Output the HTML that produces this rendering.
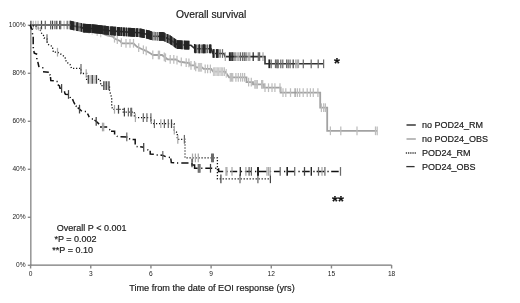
<!DOCTYPE html>
<html><head><meta charset="utf-8"><style>
html,body{margin:0;padding:0;background:#fff;overflow:hidden;}
svg{display:block;}
svg{will-change:transform;}
text{font-family:"Liberation Sans",sans-serif;fill:#1a1a1a;stroke:#1a1a1a;stroke-width:0.18px;}
.tk{font-size:6.6px;fill:#222;stroke:none;}
.lg{font-size:9px;fill:#222;}
</style></head><body>
<svg width="520" height="303" viewBox="0 0 520 303">
<rect width="520" height="303" fill="#fff"/>
<text x="176" y="17.7" style="font-size:10.3px">Overall survival</text>
<line x1="30.8" y1="25" x2="30.8" y2="265.6" stroke="#9a9a9a" stroke-width="1.6"/>
<line x1="30" y1="265.2" x2="391.6" y2="265.2" stroke="#777" stroke-width="1.3"/>
<line x1="30.60" y1="265" x2="30.60" y2="268.5" stroke="#888" stroke-width="1.4"/>
<text x="30.60" y="276" text-anchor="middle" class="tk">0</text>
<line x1="90.77" y1="265" x2="90.77" y2="268.5" stroke="#888" stroke-width="1.4"/>
<text x="90.77" y="276" text-anchor="middle" class="tk">3</text>
<line x1="150.94" y1="265" x2="150.94" y2="268.5" stroke="#888" stroke-width="1.4"/>
<text x="150.94" y="276" text-anchor="middle" class="tk">6</text>
<line x1="211.11" y1="265" x2="211.11" y2="268.5" stroke="#888" stroke-width="1.4"/>
<text x="211.11" y="276" text-anchor="middle" class="tk">9</text>
<line x1="271.28" y1="265" x2="271.28" y2="268.5" stroke="#888" stroke-width="1.4"/>
<text x="271.28" y="276" text-anchor="middle" class="tk">12</text>
<line x1="331.45" y1="265" x2="331.45" y2="268.5" stroke="#888" stroke-width="1.4"/>
<text x="331.45" y="276" text-anchor="middle" class="tk">15</text>
<line x1="391.62" y1="265" x2="391.62" y2="268.5" stroke="#888" stroke-width="1.4"/>
<text x="391.62" y="276" text-anchor="middle" class="tk">18</text>
<line x1="27.8" y1="25.3" x2="31" y2="25.3" stroke="#888" stroke-width="1.4"/>
<text x="25.6" y="27.0" text-anchor="end" class="tk">100%</text>
<line x1="27.8" y1="73.3" x2="31" y2="73.3" stroke="#888" stroke-width="1.4"/>
<text x="25.6" y="75.0" text-anchor="end" class="tk">80%</text>
<line x1="27.8" y1="121.3" x2="31" y2="121.3" stroke="#888" stroke-width="1.4"/>
<text x="25.6" y="123.0" text-anchor="end" class="tk">60%</text>
<line x1="27.8" y1="169.3" x2="31" y2="169.3" stroke="#888" stroke-width="1.4"/>
<text x="25.6" y="171.0" text-anchor="end" class="tk">40%</text>
<line x1="27.8" y1="217.3" x2="31" y2="217.3" stroke="#888" stroke-width="1.4"/>
<text x="25.6" y="219.0" text-anchor="end" class="tk">20%</text>
<line x1="27.8" y1="265.3" x2="31" y2="265.3" stroke="#888" stroke-width="1.4"/>
<text x="25.6" y="267.0" text-anchor="end" class="tk">0%</text>
<polyline points="30,25 70,25 80,27.5 90,29.5 100,32.5 107,35.3 112.7,36.6 115,38.7 120,41 122,43.3 133.5,43.3 137,46.8 141.6,49 146,50.8 151,53.7 153,55 162,55 167.5,59.3 176,59.5 179.4,61.7 185,62.5 189.4,63 190.2,65.3 194.5,65.3 196,67.3 202,67.3 203.7,68.9 211.2,68.9 213.2,71.7 225.2,71.7 229.1,77.3 246.5,77.3 246.5,82.1 253,82.1 253,84.4 264,84.4 264,87.7 280.6,87.7 280.6,92.6 320.2,92.6 320.2,107.7 327.2,107.7 327.2,130.8 377.2,130.8" fill="none" stroke="#a2a2a2" stroke-width="1.8"/>
<line x1="33.3" y1="20.65" x2="33.3" y2="29.35" stroke="#bdbdbd" stroke-width="1.25"/>
<line x1="35.7" y1="20.65" x2="35.7" y2="29.35" stroke="#bdbdbd" stroke-width="1.25"/>
<line x1="38.1" y1="20.65" x2="38.1" y2="29.35" stroke="#bdbdbd" stroke-width="1.25"/>
<line x1="64.1" y1="20.65" x2="64.1" y2="29.35" stroke="#bdbdbd" stroke-width="1.25"/>
<line x1="69.1" y1="20.65" x2="69.1" y2="29.35" stroke="#bdbdbd" stroke-width="1.25"/>
<line x1="84.5" y1="24.05" x2="84.5" y2="32.75" stroke="#cacaca" stroke-width="1.25"/>
<line x1="89.1" y1="24.97" x2="89.1" y2="33.67" stroke="#cacaca" stroke-width="1.25"/>
<line x1="92.2" y1="25.81" x2="92.2" y2="34.51" stroke="#cacaca" stroke-width="1.25"/>
<line x1="97.2" y1="27.31" x2="97.2" y2="36.01" stroke="#cacaca" stroke-width="1.25"/>
<line x1="100.7" y1="28.43" x2="100.7" y2="37.13" stroke="#cacaca" stroke-width="1.25"/>
<line x1="114.5" y1="33.89" x2="114.5" y2="42.59" stroke="#bdbdbd" stroke-width="1.25"/>
<line x1="117.3" y1="35.41" x2="117.3" y2="44.11" stroke="#bdbdbd" stroke-width="1.25"/>
<line x1="121.4" y1="38.26" x2="121.4" y2="46.96" stroke="#bdbdbd" stroke-width="1.25"/>
<line x1="126" y1="38.95" x2="126" y2="47.65" stroke="#bdbdbd" stroke-width="1.25"/>
<line x1="130" y1="38.95" x2="130" y2="47.65" stroke="#bdbdbd" stroke-width="1.25"/>
<line x1="133.5" y1="38.95" x2="133.5" y2="47.65" stroke="#bdbdbd" stroke-width="1.25"/>
<line x1="138.7" y1="43.26" x2="138.7" y2="51.96" stroke="#bdbdbd" stroke-width="1.25"/>
<line x1="143.4" y1="45.39" x2="143.4" y2="54.09" stroke="#bdbdbd" stroke-width="1.25"/>
<line x1="146.2" y1="46.57" x2="146.2" y2="55.27" stroke="#bdbdbd" stroke-width="1.25"/>
<line x1="152.8" y1="50.52" x2="152.8" y2="59.22" stroke="#bdbdbd" stroke-width="1.25"/>
<line x1="158.4" y1="50.65" x2="158.4" y2="59.35" stroke="#bdbdbd" stroke-width="1.25"/>
<line x1="159.5" y1="50.65" x2="159.5" y2="59.35" stroke="#bdbdbd" stroke-width="1.25"/>
<line x1="164.3" y1="52.45" x2="164.3" y2="61.15" stroke="#bdbdbd" stroke-width="1.25"/>
<line x1="165.5" y1="53.39" x2="165.5" y2="62.09" stroke="#bdbdbd" stroke-width="1.25"/>
<line x1="170.2" y1="55.01" x2="170.2" y2="63.71" stroke="#bdbdbd" stroke-width="1.25"/>
<line x1="173.8" y1="55.10" x2="173.8" y2="63.80" stroke="#bdbdbd" stroke-width="1.25"/>
<line x1="177" y1="55.80" x2="177" y2="64.50" stroke="#bdbdbd" stroke-width="1.25"/>
<line x1="181.3" y1="57.62" x2="181.3" y2="66.32" stroke="#bdbdbd" stroke-width="1.25"/>
<line x1="186.2" y1="58.29" x2="186.2" y2="66.99" stroke="#bdbdbd" stroke-width="1.25"/>
<line x1="188.9" y1="58.59" x2="188.9" y2="67.29" stroke="#bdbdbd" stroke-width="1.25"/>
<line x1="191" y1="60.95" x2="191" y2="69.65" stroke="#bdbdbd" stroke-width="1.25"/>
<line x1="194.5" y1="60.95" x2="194.5" y2="69.65" stroke="#bdbdbd" stroke-width="1.25"/>
<line x1="195.7" y1="62.55" x2="195.7" y2="71.25" stroke="#bdbdbd" stroke-width="1.25"/>
<line x1="198.5" y1="62.95" x2="198.5" y2="71.65" stroke="#cacaca" stroke-width="1.25"/>
<line x1="199.5" y1="62.95" x2="199.5" y2="71.65" stroke="#cacaca" stroke-width="1.25"/>
<line x1="200.5" y1="62.95" x2="200.5" y2="71.65" stroke="#cacaca" stroke-width="1.25"/>
<line x1="201.5" y1="62.95" x2="201.5" y2="71.65" stroke="#cacaca" stroke-width="1.25"/>
<line x1="205.2" y1="64.55" x2="205.2" y2="73.25" stroke="#bdbdbd" stroke-width="1.25"/>
<line x1="207.6" y1="64.55" x2="207.6" y2="73.25" stroke="#bdbdbd" stroke-width="1.25"/>
<line x1="210.4" y1="64.55" x2="210.4" y2="73.25" stroke="#bdbdbd" stroke-width="1.25"/>
<line x1="213.5" y1="67.35" x2="213.5" y2="76.05" stroke="#cacaca" stroke-width="1.25"/>
<line x1="214.7" y1="67.35" x2="214.7" y2="76.05" stroke="#cacaca" stroke-width="1.25"/>
<line x1="216" y1="67.35" x2="216" y2="76.05" stroke="#cacaca" stroke-width="1.25"/>
<line x1="217.3" y1="67.35" x2="217.3" y2="76.05" stroke="#cacaca" stroke-width="1.25"/>
<line x1="218.6" y1="67.35" x2="218.6" y2="76.05" stroke="#cacaca" stroke-width="1.25"/>
<line x1="220" y1="67.35" x2="220" y2="76.05" stroke="#cacaca" stroke-width="1.25"/>
<line x1="221.3" y1="67.35" x2="221.3" y2="76.05" stroke="#cacaca" stroke-width="1.25"/>
<line x1="222.6" y1="67.35" x2="222.6" y2="76.05" stroke="#cacaca" stroke-width="1.25"/>
<line x1="224.3" y1="67.35" x2="224.3" y2="76.05" stroke="#bdbdbd" stroke-width="1.25"/>
<line x1="226.3" y1="68.93" x2="226.3" y2="77.63" stroke="#cacaca" stroke-width="1.25"/>
<line x1="230.3" y1="72.95" x2="230.3" y2="81.65" stroke="#bdbdbd" stroke-width="1.25"/>
<line x1="231.5" y1="72.95" x2="231.5" y2="81.65" stroke="#bdbdbd" stroke-width="1.25"/>
<line x1="232.7" y1="72.95" x2="232.7" y2="81.65" stroke="#bdbdbd" stroke-width="1.25"/>
<line x1="235.9" y1="72.95" x2="235.9" y2="81.65" stroke="#bdbdbd" stroke-width="1.25"/>
<line x1="238.3" y1="72.95" x2="238.3" y2="81.65" stroke="#bdbdbd" stroke-width="1.25"/>
<line x1="240.6" y1="72.95" x2="240.6" y2="81.65" stroke="#bdbdbd" stroke-width="1.25"/>
<line x1="242.6" y1="72.95" x2="242.6" y2="81.65" stroke="#bdbdbd" stroke-width="1.25"/>
<line x1="244.6" y1="72.95" x2="244.6" y2="81.65" stroke="#bdbdbd" stroke-width="1.25"/>
<line x1="248.6" y1="77.75" x2="248.6" y2="86.45" stroke="#bdbdbd" stroke-width="1.25"/>
<line x1="251.3" y1="77.75" x2="251.3" y2="86.45" stroke="#bdbdbd" stroke-width="1.25"/>
<line x1="254.9" y1="80.05" x2="254.9" y2="88.75" stroke="#bdbdbd" stroke-width="1.25"/>
<line x1="256.1" y1="80.05" x2="256.1" y2="88.75" stroke="#bdbdbd" stroke-width="1.25"/>
<line x1="257.3" y1="80.05" x2="257.3" y2="88.75" stroke="#bdbdbd" stroke-width="1.25"/>
<line x1="261.6" y1="80.05" x2="261.6" y2="88.75" stroke="#bdbdbd" stroke-width="1.25"/>
<line x1="262.7" y1="80.05" x2="262.7" y2="88.75" stroke="#bdbdbd" stroke-width="1.25"/>
<line x1="265" y1="83.35" x2="265" y2="92.05" stroke="#bdbdbd" stroke-width="1.25"/>
<line x1="268.5" y1="83.35" x2="268.5" y2="92.05" stroke="#bdbdbd" stroke-width="1.25"/>
<line x1="272" y1="83.35" x2="272" y2="92.05" stroke="#bdbdbd" stroke-width="1.25"/>
<line x1="274.9" y1="83.35" x2="274.9" y2="92.05" stroke="#bdbdbd" stroke-width="1.25"/>
<line x1="280" y1="83.35" x2="280" y2="92.05" stroke="#bdbdbd" stroke-width="1.25"/>
<line x1="283" y1="88.25" x2="283" y2="96.95" stroke="#bdbdbd" stroke-width="1.25"/>
<line x1="285.8" y1="88.25" x2="285.8" y2="96.95" stroke="#bdbdbd" stroke-width="1.25"/>
<line x1="290.5" y1="88.25" x2="290.5" y2="96.95" stroke="#bdbdbd" stroke-width="1.25"/>
<line x1="295.1" y1="88.25" x2="295.1" y2="96.95" stroke="#999" stroke-width="1.25"/>
<line x1="297.4" y1="88.25" x2="297.4" y2="96.95" stroke="#bdbdbd" stroke-width="1.25"/>
<line x1="299.7" y1="88.25" x2="299.7" y2="96.95" stroke="#bdbdbd" stroke-width="1.25"/>
<line x1="303.2" y1="88.25" x2="303.2" y2="96.95" stroke="#bdbdbd" stroke-width="1.25"/>
<line x1="307.2" y1="88.25" x2="307.2" y2="96.95" stroke="#bdbdbd" stroke-width="1.25"/>
<line x1="310.4" y1="88.25" x2="310.4" y2="96.95" stroke="#bdbdbd" stroke-width="1.25"/>
<line x1="313.3" y1="88.25" x2="313.3" y2="96.95" stroke="#bdbdbd" stroke-width="1.25"/>
<line x1="317.9" y1="88.25" x2="317.9" y2="96.95" stroke="#bdbdbd" stroke-width="1.25"/>
<line x1="321.4" y1="103.35" x2="321.4" y2="112.05" stroke="#bdbdbd" stroke-width="1.25"/>
<line x1="323.7" y1="103.35" x2="323.7" y2="112.05" stroke="#bdbdbd" stroke-width="1.25"/>
<line x1="325.4" y1="103.35" x2="325.4" y2="112.05" stroke="#bdbdbd" stroke-width="1.25"/>
<line x1="330.4" y1="126.45" x2="330.4" y2="135.15" stroke="#bdbdbd" stroke-width="1.25"/>
<line x1="340.8" y1="126.45" x2="340.8" y2="135.15" stroke="#bdbdbd" stroke-width="1.25"/>
<line x1="357" y1="126.45" x2="357" y2="135.15" stroke="#bdbdbd" stroke-width="1.25"/>
<line x1="375.5" y1="126.45" x2="375.5" y2="135.15" stroke="#bdbdbd" stroke-width="1.25"/>
<line x1="377.2" y1="126.45" x2="377.2" y2="135.15" stroke="#bdbdbd" stroke-width="1.25"/>
<polyline points="30,25 70,25 74,26 77.5,26.7 81,27.3 83.4,28.1 91.4,28.5 101.7,29.7 110,30.7 118,31.4 130,32.2 140,32.8 149,34.8 153,36.2 163,36.4 170,39.6 177,44.5 186,45.1 191,45.3 195,48.8 211,48.8 213,53.5 224,53.5 225,56.6 265,56.6 265,63.8 323.6,63.8" fill="none" stroke="#333" stroke-width="1.6"/>
<line x1="75" y1="21.85" x2="75" y2="30.55" stroke="#6a6a6a" stroke-width="1.25"/>
<line x1="78.2" y1="22.47" x2="78.2" y2="31.17" stroke="#6a6a6a" stroke-width="1.25"/>
<line x1="79.8" y1="22.74" x2="79.8" y2="31.44" stroke="#6a6a6a" stroke-width="1.25"/>
<line x1="152.5" y1="31.68" x2="152.5" y2="40.38" stroke="#6a6a6a" stroke-width="1.25"/>
<line x1="154.1" y1="31.87" x2="154.1" y2="40.57" stroke="#6a6a6a" stroke-width="1.25"/>
<line x1="155.7" y1="31.90" x2="155.7" y2="40.60" stroke="#6a6a6a" stroke-width="1.25"/>
<line x1="157.3" y1="31.94" x2="157.3" y2="40.64" stroke="#6a6a6a" stroke-width="1.25"/>
<line x1="165.5" y1="33.19" x2="165.5" y2="41.89" stroke="#6a6a6a" stroke-width="1.25"/>
<line x1="169" y1="34.79" x2="169" y2="43.49" stroke="#6a6a6a" stroke-width="1.25"/>
<line x1="173" y1="37.35" x2="173" y2="46.05" stroke="#6a6a6a" stroke-width="1.25"/>
<line x1="182.5" y1="40.52" x2="182.5" y2="49.22" stroke="#6a6a6a" stroke-width="1.25"/>
<line x1="184.1" y1="40.62" x2="184.1" y2="49.32" stroke="#6a6a6a" stroke-width="1.25"/>
<line x1="196.5" y1="44.45" x2="196.5" y2="53.15" stroke="#6a6a6a" stroke-width="1.25"/>
<line x1="198.1" y1="44.45" x2="198.1" y2="53.15" stroke="#6a6a6a" stroke-width="1.25"/>
<line x1="199.7" y1="44.45" x2="199.7" y2="53.15" stroke="#6a6a6a" stroke-width="1.25"/>
<line x1="201.3" y1="44.45" x2="201.3" y2="53.15" stroke="#6a6a6a" stroke-width="1.25"/>
<line x1="202.9" y1="44.45" x2="202.9" y2="53.15" stroke="#6a6a6a" stroke-width="1.25"/>
<line x1="206" y1="44.45" x2="206" y2="53.15" stroke="#6a6a6a" stroke-width="1.25"/>
<line x1="207.6" y1="44.45" x2="207.6" y2="53.15" stroke="#6a6a6a" stroke-width="1.25"/>
<line x1="214.5" y1="49.15" x2="214.5" y2="57.85" stroke="#6a6a6a" stroke-width="1.25"/>
<line x1="218.5" y1="49.15" x2="218.5" y2="57.85" stroke="#6a6a6a" stroke-width="1.25"/>
<line x1="220.1" y1="49.15" x2="220.1" y2="57.85" stroke="#6a6a6a" stroke-width="1.25"/>
<line x1="222.5" y1="49.15" x2="222.5" y2="57.85" stroke="#6a6a6a" stroke-width="1.25"/>
<line x1="70.3" y1="20.73" x2="70.3" y2="29.42" stroke="#252525" stroke-width="1.1"/>
<line x1="70.8" y1="20.85" x2="70.8" y2="29.55" stroke="#252525" stroke-width="1.1"/>
<line x1="71.3" y1="20.98" x2="71.3" y2="29.67" stroke="#252525" stroke-width="1.1"/>
<line x1="71.8" y1="21.10" x2="71.8" y2="29.80" stroke="#252525" stroke-width="1.1"/>
<line x1="72.3" y1="21.23" x2="72.3" y2="29.92" stroke="#252525" stroke-width="1.1"/>
<line x1="72.8" y1="21.35" x2="72.8" y2="30.05" stroke="#252525" stroke-width="1.1"/>
<line x1="73.3" y1="21.48" x2="73.3" y2="30.17" stroke="#252525" stroke-width="1.1"/>
<line x1="73.8" y1="21.60" x2="73.8" y2="30.30" stroke="#252525" stroke-width="1.1"/>
<line x1="76.7" y1="22.19" x2="76.7" y2="30.89" stroke="#252525" stroke-width="1.1"/>
<line x1="77.2" y1="22.29" x2="77.2" y2="30.99" stroke="#252525" stroke-width="1.1"/>
<line x1="77.7" y1="22.38" x2="77.7" y2="31.08" stroke="#252525" stroke-width="1.1"/>
<line x1="81" y1="22.95" x2="81" y2="31.65" stroke="#252525" stroke-width="1.1"/>
<line x1="81.5" y1="23.12" x2="81.5" y2="31.82" stroke="#252525" stroke-width="1.1"/>
<line x1="83" y1="23.62" x2="83" y2="32.32" stroke="#252525" stroke-width="1.1"/>
<line x1="83.5" y1="23.76" x2="83.5" y2="32.45" stroke="#252525" stroke-width="1.1"/>
<line x1="84" y1="23.78" x2="84" y2="32.48" stroke="#252525" stroke-width="1.1"/>
<line x1="84.5" y1="23.80" x2="84.5" y2="32.51" stroke="#252525" stroke-width="1.1"/>
<line x1="85" y1="23.83" x2="85" y2="32.53" stroke="#252525" stroke-width="1.1"/>
<line x1="85.5" y1="23.86" x2="85.5" y2="32.55" stroke="#252525" stroke-width="1.1"/>
<line x1="86" y1="23.88" x2="86" y2="32.58" stroke="#252525" stroke-width="1.1"/>
<line x1="86.5" y1="23.91" x2="86.5" y2="32.60" stroke="#252525" stroke-width="1.1"/>
<line x1="87" y1="23.93" x2="87" y2="32.63" stroke="#252525" stroke-width="1.1"/>
<line x1="87.5" y1="23.95" x2="87.5" y2="32.66" stroke="#252525" stroke-width="1.1"/>
<line x1="88" y1="23.98" x2="88" y2="32.68" stroke="#252525" stroke-width="1.1"/>
<line x1="88.5" y1="24.01" x2="88.5" y2="32.70" stroke="#252525" stroke-width="1.1"/>
<line x1="89" y1="24.03" x2="89" y2="32.73" stroke="#252525" stroke-width="1.1"/>
<line x1="89.5" y1="24.05" x2="89.5" y2="32.76" stroke="#252525" stroke-width="1.1"/>
<line x1="90" y1="24.08" x2="90" y2="32.78" stroke="#252525" stroke-width="1.1"/>
<line x1="90.5" y1="24.10" x2="90.5" y2="32.80" stroke="#252525" stroke-width="1.1"/>
<line x1="91" y1="24.13" x2="91" y2="32.83" stroke="#252525" stroke-width="1.1"/>
<line x1="92" y1="24.22" x2="92" y2="32.92" stroke="#252525" stroke-width="1.1"/>
<line x1="92.5" y1="24.28" x2="92.5" y2="32.98" stroke="#252525" stroke-width="1.1"/>
<line x1="93" y1="24.34" x2="93" y2="33.04" stroke="#252525" stroke-width="1.1"/>
<line x1="93.5" y1="24.39" x2="93.5" y2="33.09" stroke="#252525" stroke-width="1.1"/>
<line x1="94" y1="24.45" x2="94" y2="33.15" stroke="#252525" stroke-width="1.1"/>
<line x1="94.5" y1="24.51" x2="94.5" y2="33.21" stroke="#252525" stroke-width="1.1"/>
<line x1="95" y1="24.57" x2="95" y2="33.27" stroke="#252525" stroke-width="1.1"/>
<line x1="95.5" y1="24.63" x2="95.5" y2="33.33" stroke="#252525" stroke-width="1.1"/>
<line x1="96" y1="24.69" x2="96" y2="33.39" stroke="#252525" stroke-width="1.1"/>
<line x1="96.5" y1="24.74" x2="96.5" y2="33.44" stroke="#252525" stroke-width="1.1"/>
<line x1="97" y1="24.80" x2="97" y2="33.50" stroke="#252525" stroke-width="1.1"/>
<line x1="97.5" y1="24.86" x2="97.5" y2="33.56" stroke="#252525" stroke-width="1.1"/>
<line x1="98" y1="24.92" x2="98" y2="33.62" stroke="#252525" stroke-width="1.1"/>
<line x1="98.5" y1="24.98" x2="98.5" y2="33.68" stroke="#252525" stroke-width="1.1"/>
<line x1="99" y1="25.04" x2="99" y2="33.74" stroke="#252525" stroke-width="1.1"/>
<line x1="99.5" y1="25.09" x2="99.5" y2="33.79" stroke="#252525" stroke-width="1.1"/>
<line x1="100" y1="25.15" x2="100" y2="33.85" stroke="#252525" stroke-width="1.1"/>
<line x1="100.5" y1="25.21" x2="100.5" y2="33.91" stroke="#252525" stroke-width="1.1"/>
<line x1="101" y1="25.27" x2="101" y2="33.97" stroke="#252525" stroke-width="1.1"/>
<line x1="101.5" y1="25.33" x2="101.5" y2="34.03" stroke="#252525" stroke-width="1.1"/>
<line x1="102" y1="25.39" x2="102" y2="34.09" stroke="#252525" stroke-width="1.1"/>
<line x1="102.5" y1="25.45" x2="102.5" y2="34.15" stroke="#252525" stroke-width="1.1"/>
<line x1="103.7" y1="25.59" x2="103.7" y2="34.29" stroke="#252525" stroke-width="1.1"/>
<line x1="104.2" y1="25.65" x2="104.2" y2="34.35" stroke="#252525" stroke-width="1.1"/>
<line x1="104.7" y1="25.71" x2="104.7" y2="34.41" stroke="#252525" stroke-width="1.1"/>
<line x1="105.2" y1="25.77" x2="105.2" y2="34.47" stroke="#252525" stroke-width="1.1"/>
<line x1="105.7" y1="25.83" x2="105.7" y2="34.53" stroke="#252525" stroke-width="1.1"/>
<line x1="106.2" y1="25.89" x2="106.2" y2="34.59" stroke="#252525" stroke-width="1.1"/>
<line x1="106.7" y1="25.95" x2="106.7" y2="34.65" stroke="#252525" stroke-width="1.1"/>
<line x1="107.2" y1="26.01" x2="107.2" y2="34.71" stroke="#252525" stroke-width="1.1"/>
<line x1="107.7" y1="26.07" x2="107.7" y2="34.77" stroke="#252525" stroke-width="1.1"/>
<line x1="108.2" y1="26.13" x2="108.2" y2="34.83" stroke="#252525" stroke-width="1.1"/>
<line x1="108.7" y1="26.19" x2="108.7" y2="34.89" stroke="#252525" stroke-width="1.1"/>
<line x1="110.3" y1="26.38" x2="110.3" y2="35.08" stroke="#252525" stroke-width="1.1"/>
<line x1="110.8" y1="26.42" x2="110.8" y2="35.12" stroke="#252525" stroke-width="1.1"/>
<line x1="111.3" y1="26.46" x2="111.3" y2="35.16" stroke="#252525" stroke-width="1.1"/>
<line x1="111.8" y1="26.51" x2="111.8" y2="35.21" stroke="#252525" stroke-width="1.1"/>
<line x1="112.3" y1="26.55" x2="112.3" y2="35.25" stroke="#252525" stroke-width="1.1"/>
<line x1="112.8" y1="26.59" x2="112.8" y2="35.30" stroke="#252525" stroke-width="1.1"/>
<line x1="113.3" y1="26.64" x2="113.3" y2="35.34" stroke="#252525" stroke-width="1.1"/>
<line x1="113.8" y1="26.68" x2="113.8" y2="35.38" stroke="#252525" stroke-width="1.1"/>
<line x1="114.3" y1="26.73" x2="114.3" y2="35.43" stroke="#252525" stroke-width="1.1"/>
<line x1="114.8" y1="26.77" x2="114.8" y2="35.47" stroke="#252525" stroke-width="1.1"/>
<line x1="115.3" y1="26.81" x2="115.3" y2="35.51" stroke="#252525" stroke-width="1.1"/>
<line x1="115.8" y1="26.86" x2="115.8" y2="35.56" stroke="#252525" stroke-width="1.1"/>
<line x1="117.5" y1="27.01" x2="117.5" y2="35.71" stroke="#252525" stroke-width="1.1"/>
<line x1="118" y1="27.05" x2="118" y2="35.75" stroke="#252525" stroke-width="1.1"/>
<line x1="118.5" y1="27.08" x2="118.5" y2="35.78" stroke="#252525" stroke-width="1.1"/>
<line x1="119" y1="27.12" x2="119" y2="35.82" stroke="#252525" stroke-width="1.1"/>
<line x1="119.5" y1="27.15" x2="119.5" y2="35.85" stroke="#252525" stroke-width="1.1"/>
<line x1="120" y1="27.18" x2="120" y2="35.88" stroke="#252525" stroke-width="1.1"/>
<line x1="121" y1="27.25" x2="121" y2="35.95" stroke="#252525" stroke-width="1.1"/>
<line x1="121.5" y1="27.28" x2="121.5" y2="35.98" stroke="#252525" stroke-width="1.1"/>
<line x1="122" y1="27.32" x2="122" y2="36.02" stroke="#252525" stroke-width="1.1"/>
<line x1="123.5" y1="27.42" x2="123.5" y2="36.12" stroke="#252525" stroke-width="1.1"/>
<line x1="124" y1="27.45" x2="124" y2="36.15" stroke="#252525" stroke-width="1.1"/>
<line x1="124.5" y1="27.48" x2="124.5" y2="36.18" stroke="#252525" stroke-width="1.1"/>
<line x1="126" y1="27.58" x2="126" y2="36.28" stroke="#252525" stroke-width="1.1"/>
<line x1="126.5" y1="27.62" x2="126.5" y2="36.32" stroke="#252525" stroke-width="1.1"/>
<line x1="128" y1="27.72" x2="128" y2="36.42" stroke="#252525" stroke-width="1.1"/>
<line x1="128.5" y1="27.75" x2="128.5" y2="36.45" stroke="#252525" stroke-width="1.1"/>
<line x1="129.5" y1="27.82" x2="129.5" y2="36.52" stroke="#252525" stroke-width="1.1"/>
<line x1="130" y1="27.85" x2="130" y2="36.55" stroke="#252525" stroke-width="1.1"/>
<line x1="130.5" y1="27.88" x2="130.5" y2="36.58" stroke="#252525" stroke-width="1.1"/>
<line x1="131" y1="27.91" x2="131" y2="36.61" stroke="#252525" stroke-width="1.1"/>
<line x1="131.5" y1="27.94" x2="131.5" y2="36.64" stroke="#252525" stroke-width="1.1"/>
<line x1="132" y1="27.97" x2="132" y2="36.67" stroke="#252525" stroke-width="1.1"/>
<line x1="132.5" y1="28.00" x2="132.5" y2="36.70" stroke="#252525" stroke-width="1.1"/>
<line x1="133" y1="28.03" x2="133" y2="36.73" stroke="#252525" stroke-width="1.1"/>
<line x1="133.5" y1="28.06" x2="133.5" y2="36.76" stroke="#252525" stroke-width="1.1"/>
<line x1="134" y1="28.09" x2="134" y2="36.79" stroke="#252525" stroke-width="1.1"/>
<line x1="134.5" y1="28.12" x2="134.5" y2="36.82" stroke="#252525" stroke-width="1.1"/>
<line x1="135" y1="28.15" x2="135" y2="36.85" stroke="#252525" stroke-width="1.1"/>
<line x1="136.5" y1="28.24" x2="136.5" y2="36.94" stroke="#252525" stroke-width="1.1"/>
<line x1="137" y1="28.27" x2="137" y2="36.97" stroke="#252525" stroke-width="1.1"/>
<line x1="137.5" y1="28.30" x2="137.5" y2="37.00" stroke="#252525" stroke-width="1.1"/>
<line x1="138" y1="28.33" x2="138" y2="37.03" stroke="#252525" stroke-width="1.1"/>
<line x1="139.8" y1="28.44" x2="139.8" y2="37.14" stroke="#252525" stroke-width="1.1"/>
<line x1="140.3" y1="28.52" x2="140.3" y2="37.22" stroke="#252525" stroke-width="1.1"/>
<line x1="140.8" y1="28.63" x2="140.8" y2="37.33" stroke="#252525" stroke-width="1.1"/>
<line x1="141.3" y1="28.74" x2="141.3" y2="37.44" stroke="#252525" stroke-width="1.1"/>
<line x1="141.8" y1="28.85" x2="141.8" y2="37.55" stroke="#252525" stroke-width="1.1"/>
<line x1="142.3" y1="28.96" x2="142.3" y2="37.66" stroke="#252525" stroke-width="1.1"/>
<line x1="142.8" y1="29.07" x2="142.8" y2="37.77" stroke="#252525" stroke-width="1.1"/>
<line x1="143.3" y1="29.18" x2="143.3" y2="37.88" stroke="#252525" stroke-width="1.1"/>
<line x1="143.8" y1="29.29" x2="143.8" y2="37.99" stroke="#252525" stroke-width="1.1"/>
<line x1="144.3" y1="29.41" x2="144.3" y2="38.11" stroke="#252525" stroke-width="1.1"/>
<line x1="146.4" y1="29.87" x2="146.4" y2="38.57" stroke="#252525" stroke-width="1.1"/>
<line x1="146.9" y1="29.98" x2="146.9" y2="38.68" stroke="#252525" stroke-width="1.1"/>
<line x1="147.4" y1="30.09" x2="147.4" y2="38.79" stroke="#252525" stroke-width="1.1"/>
<line x1="147.9" y1="30.21" x2="147.9" y2="38.91" stroke="#252525" stroke-width="1.1"/>
<line x1="148.4" y1="30.32" x2="148.4" y2="39.02" stroke="#252525" stroke-width="1.1"/>
<line x1="148.9" y1="30.43" x2="148.9" y2="39.13" stroke="#252525" stroke-width="1.1"/>
<line x1="149.4" y1="30.59" x2="149.4" y2="39.29" stroke="#252525" stroke-width="1.1"/>
<line x1="149.9" y1="30.77" x2="149.9" y2="39.47" stroke="#252525" stroke-width="1.1"/>
<line x1="150.4" y1="30.94" x2="150.4" y2="39.64" stroke="#252525" stroke-width="1.1"/>
<line x1="150.9" y1="31.12" x2="150.9" y2="39.82" stroke="#252525" stroke-width="1.1"/>
<line x1="151.4" y1="31.29" x2="151.4" y2="39.99" stroke="#252525" stroke-width="1.1"/>
<line x1="159.2" y1="31.97" x2="159.2" y2="40.67" stroke="#252525" stroke-width="1.1"/>
<line x1="159.7" y1="31.98" x2="159.7" y2="40.68" stroke="#252525" stroke-width="1.1"/>
<line x1="160.2" y1="31.99" x2="160.2" y2="40.69" stroke="#252525" stroke-width="1.1"/>
<line x1="160.7" y1="32.00" x2="160.7" y2="40.70" stroke="#252525" stroke-width="1.1"/>
<line x1="161.2" y1="32.01" x2="161.2" y2="40.71" stroke="#252525" stroke-width="1.1"/>
<line x1="161.7" y1="32.02" x2="161.7" y2="40.72" stroke="#252525" stroke-width="1.1"/>
<line x1="162.2" y1="32.03" x2="162.2" y2="40.73" stroke="#252525" stroke-width="1.1"/>
<line x1="162.7" y1="32.04" x2="162.7" y2="40.74" stroke="#252525" stroke-width="1.1"/>
<line x1="163.2" y1="32.14" x2="163.2" y2="40.84" stroke="#252525" stroke-width="1.1"/>
<line x1="163.7" y1="32.37" x2="163.7" y2="41.07" stroke="#252525" stroke-width="1.1"/>
<line x1="164.2" y1="32.60" x2="164.2" y2="41.30" stroke="#252525" stroke-width="1.1"/>
<line x1="164.7" y1="32.83" x2="164.7" y2="41.53" stroke="#252525" stroke-width="1.1"/>
<line x1="167" y1="33.88" x2="167" y2="42.58" stroke="#252525" stroke-width="1.1"/>
<line x1="167.5" y1="34.11" x2="167.5" y2="42.81" stroke="#252525" stroke-width="1.1"/>
<line x1="168" y1="34.34" x2="168" y2="43.04" stroke="#252525" stroke-width="1.1"/>
<line x1="170" y1="35.25" x2="170" y2="43.95" stroke="#252525" stroke-width="1.1"/>
<line x1="170.5" y1="35.60" x2="170.5" y2="44.30" stroke="#252525" stroke-width="1.1"/>
<line x1="171" y1="35.95" x2="171" y2="44.65" stroke="#252525" stroke-width="1.1"/>
<line x1="171.5" y1="36.30" x2="171.5" y2="45.00" stroke="#252525" stroke-width="1.1"/>
<line x1="172" y1="36.65" x2="172" y2="45.35" stroke="#252525" stroke-width="1.1"/>
<line x1="174" y1="38.05" x2="174" y2="46.75" stroke="#252525" stroke-width="1.1"/>
<line x1="174.5" y1="38.40" x2="174.5" y2="47.10" stroke="#252525" stroke-width="1.1"/>
<line x1="175" y1="38.75" x2="175" y2="47.45" stroke="#252525" stroke-width="1.1"/>
<line x1="175.5" y1="39.10" x2="175.5" y2="47.80" stroke="#252525" stroke-width="1.1"/>
<line x1="176" y1="39.45" x2="176" y2="48.15" stroke="#252525" stroke-width="1.1"/>
<line x1="177" y1="40.15" x2="177" y2="48.85" stroke="#252525" stroke-width="1.1"/>
<line x1="177.5" y1="40.18" x2="177.5" y2="48.88" stroke="#252525" stroke-width="1.1"/>
<line x1="178" y1="40.22" x2="178" y2="48.92" stroke="#252525" stroke-width="1.1"/>
<line x1="178.5" y1="40.25" x2="178.5" y2="48.95" stroke="#252525" stroke-width="1.1"/>
<line x1="179" y1="40.28" x2="179" y2="48.98" stroke="#252525" stroke-width="1.1"/>
<line x1="179.5" y1="40.32" x2="179.5" y2="49.02" stroke="#252525" stroke-width="1.1"/>
<line x1="180" y1="40.35" x2="180" y2="49.05" stroke="#252525" stroke-width="1.1"/>
<line x1="180.5" y1="40.38" x2="180.5" y2="49.08" stroke="#252525" stroke-width="1.1"/>
<line x1="181" y1="40.42" x2="181" y2="49.12" stroke="#252525" stroke-width="1.1"/>
<line x1="181.5" y1="40.45" x2="181.5" y2="49.15" stroke="#252525" stroke-width="1.1"/>
<line x1="182" y1="40.48" x2="182" y2="49.18" stroke="#252525" stroke-width="1.1"/>
<line x1="184.5" y1="40.65" x2="184.5" y2="49.35" stroke="#252525" stroke-width="1.1"/>
<line x1="185" y1="40.68" x2="185" y2="49.38" stroke="#252525" stroke-width="1.1"/>
<line x1="185.5" y1="40.72" x2="185.5" y2="49.42" stroke="#252525" stroke-width="1.1"/>
<line x1="186" y1="40.75" x2="186" y2="49.45" stroke="#252525" stroke-width="1.1"/>
<line x1="186.5" y1="40.77" x2="186.5" y2="49.47" stroke="#252525" stroke-width="1.1"/>
<line x1="187" y1="40.79" x2="187" y2="49.49" stroke="#252525" stroke-width="1.1"/>
<line x1="187.5" y1="40.81" x2="187.5" y2="49.51" stroke="#252525" stroke-width="1.1"/>
<line x1="188" y1="40.83" x2="188" y2="49.53" stroke="#252525" stroke-width="1.1"/>
<line x1="188.5" y1="40.85" x2="188.5" y2="49.55" stroke="#252525" stroke-width="1.1"/>
<line x1="189" y1="40.87" x2="189" y2="49.57" stroke="#252525" stroke-width="1.1"/>
<line x1="194.5" y1="44.01" x2="194.5" y2="52.71" stroke="#252525" stroke-width="1.1"/>
<line x1="195" y1="44.45" x2="195" y2="53.15" stroke="#252525" stroke-width="1.1"/>
<line x1="195.5" y1="44.45" x2="195.5" y2="53.15" stroke="#252525" stroke-width="1.1"/>
<line x1="199" y1="44.45" x2="199" y2="53.15" stroke="#252525" stroke-width="1.1"/>
<line x1="199.5" y1="44.45" x2="199.5" y2="53.15" stroke="#252525" stroke-width="1.1"/>
<line x1="203" y1="44.45" x2="203" y2="53.15" stroke="#252525" stroke-width="1.1"/>
<line x1="203.5" y1="44.45" x2="203.5" y2="53.15" stroke="#252525" stroke-width="1.1"/>
<line x1="204" y1="44.45" x2="204" y2="53.15" stroke="#252525" stroke-width="1.1"/>
<line x1="204.5" y1="44.45" x2="204.5" y2="53.15" stroke="#252525" stroke-width="1.1"/>
<line x1="205" y1="44.45" x2="205" y2="53.15" stroke="#252525" stroke-width="1.1"/>
<line x1="209.5" y1="44.45" x2="209.5" y2="53.15" stroke="#252525" stroke-width="1.1"/>
<line x1="210" y1="44.45" x2="210" y2="53.15" stroke="#252525" stroke-width="1.1"/>
<line x1="210.5" y1="44.45" x2="210.5" y2="53.15" stroke="#252525" stroke-width="1.1"/>
<line x1="211" y1="44.45" x2="211" y2="53.15" stroke="#252525" stroke-width="1.1"/>
<line x1="213" y1="49.15" x2="213" y2="57.85" stroke="#252525" stroke-width="1.1"/>
<line x1="213.5" y1="49.15" x2="213.5" y2="57.85" stroke="#252525" stroke-width="1.1"/>
<line x1="216.5" y1="49.15" x2="216.5" y2="57.85" stroke="#252525" stroke-width="1.1"/>
<line x1="217" y1="49.15" x2="217" y2="57.85" stroke="#252525" stroke-width="1.1"/>
<line x1="217.5" y1="49.15" x2="217.5" y2="57.85" stroke="#252525" stroke-width="1.1"/>
<line x1="30.9" y1="20.65" x2="30.9" y2="29.35" stroke="#444" stroke-width="1.25"/>
<line x1="41.5" y1="20.65" x2="41.5" y2="29.35" stroke="#444" stroke-width="1.25"/>
<line x1="45.3" y1="20.65" x2="45.3" y2="29.35" stroke="#6a6a6a" stroke-width="1.25"/>
<line x1="50.6" y1="20.65" x2="50.6" y2="29.35" stroke="#6a6a6a" stroke-width="1.25"/>
<line x1="52.5" y1="20.65" x2="52.5" y2="29.35" stroke="#444" stroke-width="1.25"/>
<line x1="54.9" y1="20.65" x2="54.9" y2="29.35" stroke="#6a6a6a" stroke-width="1.25"/>
<line x1="56.8" y1="20.65" x2="56.8" y2="29.35" stroke="#444" stroke-width="1.25"/>
<line x1="59.7" y1="20.65" x2="59.7" y2="29.35" stroke="#444" stroke-width="1.25"/>
<line x1="60.7" y1="20.65" x2="60.7" y2="29.35" stroke="#6a6a6a" stroke-width="1.25"/>
<line x1="67.2" y1="20.65" x2="67.2" y2="29.35" stroke="#6a6a6a" stroke-width="1.25"/>
<line x1="225.3" y1="52.25" x2="225.3" y2="60.95" stroke="#a8a8a8" stroke-width="1.25"/>
<line x1="229.5" y1="52.25" x2="229.5" y2="60.95" stroke="#252525" stroke-width="1.25"/>
<line x1="230.8" y1="52.25" x2="230.8" y2="60.95" stroke="#252525" stroke-width="1.25"/>
<line x1="232" y1="52.25" x2="232" y2="60.95" stroke="#252525" stroke-width="1.25"/>
<line x1="232.9" y1="52.25" x2="232.9" y2="60.95" stroke="#252525" stroke-width="1.25"/>
<line x1="235" y1="52.25" x2="235" y2="60.95" stroke="#6a6a6a" stroke-width="1.25"/>
<line x1="237.1" y1="52.25" x2="237.1" y2="60.95" stroke="#a8a8a8" stroke-width="1.25"/>
<line x1="238.8" y1="52.25" x2="238.8" y2="60.95" stroke="#a8a8a8" stroke-width="1.25"/>
<line x1="240.5" y1="52.25" x2="240.5" y2="60.95" stroke="#6a6a6a" stroke-width="1.25"/>
<line x1="242.6" y1="52.25" x2="242.6" y2="60.95" stroke="#6a6a6a" stroke-width="1.25"/>
<line x1="244.3" y1="52.25" x2="244.3" y2="60.95" stroke="#6a6a6a" stroke-width="1.25"/>
<line x1="246" y1="52.25" x2="246" y2="60.95" stroke="#6a6a6a" stroke-width="1.25"/>
<line x1="248.2" y1="52.25" x2="248.2" y2="60.95" stroke="#a8a8a8" stroke-width="1.25"/>
<line x1="249.8" y1="52.25" x2="249.8" y2="60.95" stroke="#a8a8a8" stroke-width="1.25"/>
<line x1="253.2" y1="52.25" x2="253.2" y2="60.95" stroke="#252525" stroke-width="1.25"/>
<line x1="258.3" y1="52.25" x2="258.3" y2="60.95" stroke="#6a6a6a" stroke-width="1.25"/>
<line x1="259.6" y1="52.25" x2="259.6" y2="60.95" stroke="#6a6a6a" stroke-width="1.25"/>
<line x1="263" y1="52.25" x2="263" y2="60.95" stroke="#a8a8a8" stroke-width="1.25"/>
<line x1="269.3" y1="59.45" x2="269.3" y2="68.15" stroke="#252525" stroke-width="1.8"/>
<line x1="271.2" y1="59.45" x2="271.2" y2="68.15" stroke="#6a6a6a" stroke-width="1.25"/>
<line x1="275.5" y1="59.45" x2="275.5" y2="68.15" stroke="#6a6a6a" stroke-width="1.25"/>
<line x1="277" y1="59.45" x2="277" y2="68.15" stroke="#444" stroke-width="1.25"/>
<line x1="278.2" y1="59.45" x2="278.2" y2="68.15" stroke="#6a6a6a" stroke-width="1.25"/>
<line x1="280.8" y1="59.45" x2="280.8" y2="68.15" stroke="#6a6a6a" stroke-width="1.25"/>
<line x1="282.8" y1="59.45" x2="282.8" y2="68.15" stroke="#6a6a6a" stroke-width="1.25"/>
<line x1="286.6" y1="59.45" x2="286.6" y2="68.15" stroke="#6a6a6a" stroke-width="1.25"/>
<line x1="288.2" y1="59.45" x2="288.2" y2="68.15" stroke="#6a6a6a" stroke-width="1.25"/>
<line x1="290.1" y1="59.45" x2="290.1" y2="68.15" stroke="#6a6a6a" stroke-width="1.25"/>
<line x1="293.2" y1="59.45" x2="293.2" y2="68.15" stroke="#444" stroke-width="1.25"/>
<line x1="295.8" y1="59.45" x2="295.8" y2="68.15" stroke="#a8a8a8" stroke-width="1.25"/>
<line x1="297.2" y1="59.45" x2="297.2" y2="68.15" stroke="#a8a8a8" stroke-width="1.25"/>
<line x1="298.5" y1="59.45" x2="298.5" y2="68.15" stroke="#a8a8a8" stroke-width="1.25"/>
<line x1="303.3" y1="59.45" x2="303.3" y2="68.15" stroke="#6a6a6a" stroke-width="1.25"/>
<line x1="311.2" y1="59.45" x2="311.2" y2="68.15" stroke="#6a6a6a" stroke-width="1.25"/>
<line x1="318.2" y1="59.45" x2="318.2" y2="68.15" stroke="#6a6a6a" stroke-width="1.25"/>
<line x1="323.6" y1="59.45" x2="323.6" y2="68.15" stroke="#6a6a6a" stroke-width="1.25"/>
<line x1="31" y1="25" x2="70.3" y2="25" stroke="#707070" stroke-width="1.8"/>
<polyline points="30,25 32,26 35.5,25.8 38,27.5 40.3,30.3 41.9,33.9 43.5,35.5 43.9,37.9 47,38.7 47,41 47.8,43.8 49,45 52.3,46.4 53,50 53.4,52.2 57.5,52.2 61.5,54.5 65,57 65.6,59.6 66.3,62 68.3,63.2 70,64.3 70.7,66.3 71.5,68.3 81,68.3 81,73.5 86.6,73.5 86.6,79.4 100.2,79.4 100.6,82.9 101,85.7 109.5,85.7 109.5,90.5 110.5,94 111.7,97.6 111.7,106 112.5,109.3 123.3,109.3 123.3,112.1 134.4,112.1 134.4,117.7 151.3,117.7 151.3,123.7 174.1,123.7 174.1,130 177.3,132.7 177.3,139.3 185,139.3 185,157.9 217.4,157.9 217.4,178.8 270.4,178.8" fill="none" stroke="#111" stroke-width="1.3" stroke-dasharray="1.2 1.8"/>
<line x1="89.5" y1="75.05" x2="89.5" y2="83.75" stroke="#cacaca" stroke-width="1.25"/>
<line x1="90.5" y1="75.05" x2="90.5" y2="83.75" stroke="#cacaca" stroke-width="1.25"/>
<line x1="91.3" y1="75.05" x2="91.3" y2="83.75" stroke="#cacaca" stroke-width="1.25"/>
<line x1="93.3" y1="75.05" x2="93.3" y2="83.75" stroke="#cacaca" stroke-width="1.25"/>
<line x1="94.3" y1="75.05" x2="94.3" y2="83.75" stroke="#cacaca" stroke-width="1.25"/>
<line x1="95.3" y1="75.05" x2="95.3" y2="83.75" stroke="#cacaca" stroke-width="1.25"/>
<line x1="104.8" y1="81.35" x2="104.8" y2="90.05" stroke="#cacaca" stroke-width="1.25"/>
<line x1="105.5" y1="81.35" x2="105.5" y2="90.05" stroke="#cacaca" stroke-width="1.25"/>
<line x1="107.3" y1="81.35" x2="107.3" y2="90.05" stroke="#cacaca" stroke-width="1.25"/>
<line x1="108.2" y1="81.35" x2="108.2" y2="90.05" stroke="#cacaca" stroke-width="1.25"/>
<line x1="47" y1="34.35" x2="47" y2="43.05" stroke="#6a6a6a" stroke-width="1.25"/>
<line x1="57.5" y1="47.85" x2="57.5" y2="56.55" stroke="#a8a8a8" stroke-width="1.25"/>
<line x1="81" y1="63.95" x2="81" y2="72.65" stroke="#6a6a6a" stroke-width="1.25"/>
<line x1="86.2" y1="69.15" x2="86.2" y2="77.85" stroke="#a8a8a8" stroke-width="1.25"/>
<line x1="88.3" y1="75.05" x2="88.3" y2="83.75" stroke="#444" stroke-width="1.25"/>
<line x1="92.3" y1="75.05" x2="92.3" y2="83.75" stroke="#444" stroke-width="1.25"/>
<line x1="96.5" y1="75.05" x2="96.5" y2="83.75" stroke="#444" stroke-width="1.25"/>
<line x1="103.8" y1="81.35" x2="103.8" y2="90.05" stroke="#444" stroke-width="1.25"/>
<line x1="106.3" y1="81.35" x2="106.3" y2="90.05" stroke="#444" stroke-width="1.25"/>
<line x1="109" y1="81.35" x2="109" y2="90.05" stroke="#444" stroke-width="1.25"/>
<line x1="114.5" y1="104.95" x2="114.5" y2="113.65" stroke="#a8a8a8" stroke-width="1.25"/>
<line x1="118.5" y1="104.95" x2="118.5" y2="113.65" stroke="#444" stroke-width="1.25"/>
<line x1="124.4" y1="107.75" x2="124.4" y2="116.45" stroke="#444" stroke-width="1.25"/>
<line x1="128.4" y1="107.75" x2="128.4" y2="116.45" stroke="#6a6a6a" stroke-width="1.25"/>
<line x1="130.8" y1="107.75" x2="130.8" y2="116.45" stroke="#6a6a6a" stroke-width="1.25"/>
<line x1="131.6" y1="107.75" x2="131.6" y2="116.45" stroke="#6a6a6a" stroke-width="1.25"/>
<line x1="135.4" y1="113.35" x2="135.4" y2="122.05" stroke="#a8a8a8" stroke-width="1.25"/>
<line x1="143.3" y1="113.35" x2="143.3" y2="122.05" stroke="#6a6a6a" stroke-width="1.25"/>
<line x1="146.9" y1="113.35" x2="146.9" y2="122.05" stroke="#6a6a6a" stroke-width="1.25"/>
<line x1="150.9" y1="113.35" x2="150.9" y2="122.05" stroke="#6a6a6a" stroke-width="1.25"/>
<line x1="154.4" y1="119.35" x2="154.4" y2="128.05" stroke="#6a6a6a" stroke-width="1.25"/>
<line x1="160.8" y1="119.35" x2="160.8" y2="128.05" stroke="#a8a8a8" stroke-width="1.25"/>
<line x1="164.4" y1="119.35" x2="164.4" y2="128.05" stroke="#6a6a6a" stroke-width="1.25"/>
<line x1="168.3" y1="119.35" x2="168.3" y2="128.05" stroke="#6a6a6a" stroke-width="1.25"/>
<line x1="171.5" y1="119.35" x2="171.5" y2="128.05" stroke="#444" stroke-width="1.25"/>
<line x1="174.3" y1="125.82" x2="174.3" y2="134.52" stroke="#a8a8a8" stroke-width="1.25"/>
<line x1="177.8" y1="134.95" x2="177.8" y2="143.65" stroke="#a8a8a8" stroke-width="1.25"/>
<line x1="184.4" y1="134.95" x2="184.4" y2="143.65" stroke="#6a6a6a" stroke-width="1.25"/>
<line x1="192.5" y1="153.55" x2="192.5" y2="162.25" stroke="#a8a8a8" stroke-width="1.25"/>
<line x1="195.4" y1="153.55" x2="195.4" y2="162.25" stroke="#a8a8a8" stroke-width="1.25"/>
<line x1="198.3" y1="153.55" x2="198.3" y2="162.25" stroke="#a8a8a8" stroke-width="1.25"/>
<line x1="211.6" y1="153.55" x2="211.6" y2="162.25" stroke="#6a6a6a" stroke-width="1.25"/>
<line x1="212.5" y1="153.55" x2="212.5" y2="162.25" stroke="#6a6a6a" stroke-width="1.25"/>
<line x1="213.4" y1="153.55" x2="213.4" y2="162.25" stroke="#6a6a6a" stroke-width="1.25"/>
<line x1="220.9" y1="174.45" x2="220.9" y2="183.15" stroke="#444" stroke-width="1.25"/>
<line x1="240" y1="174.45" x2="240" y2="183.15" stroke="#6a6a6a" stroke-width="1.25"/>
<line x1="257.9" y1="174.45" x2="257.9" y2="183.15" stroke="#6a6a6a" stroke-width="1.25"/>
<line x1="270.4" y1="174.45" x2="270.4" y2="183.15" stroke="#444" stroke-width="1.25"/>
<path d="M36.7 26.5V30M38.7 26.8V30.3M40.5 27V30.5" stroke="#aaa" stroke-width="1"/>
<path d="M30 25 L31 27.5 L32.5 29.8 M32.4 33.2 L32.6 34.4 M33.2 36.8 L33.2 44.2 M33.3 47 L33.3 48.2 M33.8 51 L34.3 53.2 L37.2 54.3 M36.8 58 L36.9 59.2 M37.8 61.8 L38.4 64.5 L39 67.2 M42.2 67.8 L43.4 67.8 M43 71.8 L48.8 72.3 M49.8 74.4 L50.2 75.4 M50.5 77 L50.8 80.5 L53.8 80.8 M56.5 81.6 L57.7 81.6 M57.7 84.7 L59.5 85.9 L59.8 88 L61.5 88.3 M64.3 91.4 L64.8 92.4 M64.5 92.4 L65.4 94.2 L69 94.5 M70 97 L70.5 98 M72.5 99.1 L73.5 101.5 L74.9 104.3 M75.8 105.8 L76.6 106.6 M77.7 107.7 L80 109.5 L81.8 111.2 M84.8 111.4 L86 111.4 M87.5 113.7 L88.5 115.5 L89.2 117.1 M91.8 118.9 L93 118.9 M94.5 120 L97 122 L99.1 124.1 M100 127 L107.2 127 M109.2 129.3 L110.2 129.9 M111 131.2 L114.6 131.2 L114.6 134.5 M116.8 136 L117.6 136.6 M120.5 136.8 L127.4 136.9 M129 138.7 L130.2 138.9 M132.6 139.6 L135.2 139.6 L135.2 144.5 M136.6 146.6 L137.6 146.8 M140.2 146.8 L143.7 147.3 M147.3 149.6 L148.3 150 M150.2 150.8 L150.2 154 L153.8 154.2 M156.6 154.9 L157.8 154.9 M160.5 154.9 L163 155.5 L165.7 156.6 M168.8 157.2 L170 157.4 M170.8 158.5 L171.3 162.6 L174.2 162.8 M177 163 L178.2 163 M181.3 163 L188.5 163 M192 163 L192 165 L194.6 165 L194.6 168.3 L197.7 168.3 M201.2 168.3 L202.4 168.3 M205.3 168.3 L212.2 168.3 M215.2 168.3 L216.4 168.3 M218.6 168.3 L218.6 171.4 L223.2 171.4 M230.2 171.4 L237.2 171.4 M244.9 171.4 L251.9 171.4 M257.9 171.4 L266.6 171.4 M273.9 171.4 L280.2 171.4 M287.2 171.4 L294.7 171.4 M302.2 171.4 L309.7 171.4 M316.6 171.4 L324.3 171.4 M331.2 171.4 L338.7 171.4 M226.3 171.4 L227.6 171.4 M240.8 171.4 L242.1 171.4 M255 171.4 L256.3 171.4 M269.8 171.4 L271.1 171.4 M284 171.4 L285.3 171.4 M298.4 171.4 L299.7 171.4 M313.3 171.4 L314.6 171.4 M327.4 171.4 L328.7 171.4" fill="none" stroke="#111" stroke-width="1.5"/>
<line x1="61.6" y1="84.06" x2="61.6" y2="92.76" stroke="#444" stroke-width="1.25"/>
<line x1="68.5" y1="90.11" x2="68.5" y2="98.81" stroke="#444" stroke-width="1.25"/>
<line x1="79.5" y1="104.76" x2="79.5" y2="113.46" stroke="#444" stroke-width="1.25"/>
<line x1="96.2" y1="117.01" x2="96.2" y2="125.71" stroke="#444" stroke-width="1.25"/>
<line x1="102.5" y1="122.65" x2="102.5" y2="131.35" stroke="#a8a8a8" stroke-width="1.25"/>
<line x1="103.7" y1="122.65" x2="103.7" y2="131.35" stroke="#a8a8a8" stroke-width="1.25"/>
<line x1="126.8" y1="132.54" x2="126.8" y2="141.24" stroke="#6a6a6a" stroke-width="1.25"/>
<line x1="143.7" y1="142.95" x2="143.7" y2="151.65" stroke="#444" stroke-width="1.25"/>
<line x1="162.8" y1="151.10" x2="162.8" y2="159.80" stroke="#6a6a6a" stroke-width="1.25"/>
<line x1="192" y1="158.65" x2="192" y2="167.35" stroke="#444" stroke-width="1.25"/>
<line x1="198.3" y1="163.95" x2="198.3" y2="172.65" stroke="#6a6a6a" stroke-width="1.25"/>
<line x1="199.2" y1="163.95" x2="199.2" y2="172.65" stroke="#6a6a6a" stroke-width="1.25"/>
<line x1="200" y1="163.95" x2="200" y2="172.65" stroke="#6a6a6a" stroke-width="1.25"/>
<line x1="210.5" y1="163.95" x2="210.5" y2="172.65" stroke="#444" stroke-width="1.25"/>
<line x1="226" y1="167.05" x2="226" y2="175.75" stroke="#a8a8a8" stroke-width="1.25"/>
<line x1="226.9" y1="167.05" x2="226.9" y2="175.75" stroke="#a8a8a8" stroke-width="1.25"/>
<line x1="232" y1="167.05" x2="232" y2="175.75" stroke="#a8a8a8" stroke-width="1.25"/>
<line x1="240.3" y1="167.05" x2="240.3" y2="175.75" stroke="#252525" stroke-width="1.25"/>
<line x1="245.9" y1="167.05" x2="245.9" y2="175.75" stroke="#a8a8a8" stroke-width="1.25"/>
<line x1="249.1" y1="167.05" x2="249.1" y2="175.75" stroke="#6a6a6a" stroke-width="1.25"/>
<line x1="251.4" y1="167.05" x2="251.4" y2="175.75" stroke="#6a6a6a" stroke-width="1.25"/>
<line x1="257.6" y1="167.05" x2="257.6" y2="175.75" stroke="#252525" stroke-width="1.25"/>
<line x1="258.4" y1="167.05" x2="258.4" y2="175.75" stroke="#252525" stroke-width="1.25"/>
<line x1="267" y1="167.05" x2="267" y2="175.75" stroke="#a8a8a8" stroke-width="1.25"/>
<line x1="268.6" y1="167.05" x2="268.6" y2="175.75" stroke="#a8a8a8" stroke-width="1.25"/>
<line x1="270.2" y1="167.05" x2="270.2" y2="175.75" stroke="#a8a8a8" stroke-width="1.25"/>
<line x1="280.2" y1="167.05" x2="280.2" y2="175.75" stroke="#6a6a6a" stroke-width="1.25"/>
<line x1="287.2" y1="167.05" x2="287.2" y2="175.75" stroke="#252525" stroke-width="1.6"/>
<line x1="294.7" y1="167.05" x2="294.7" y2="175.75" stroke="#6a6a6a" stroke-width="1.25"/>
<line x1="304.5" y1="167.05" x2="304.5" y2="175.75" stroke="#444" stroke-width="1.25"/>
<line x1="311.3" y1="167.05" x2="311.3" y2="175.75" stroke="#252525" stroke-width="1.4"/>
<line x1="318.5" y1="167.05" x2="318.5" y2="175.75" stroke="#6a6a6a" stroke-width="1.25"/>
<line x1="322" y1="167.05" x2="322" y2="175.75" stroke="#a8a8a8" stroke-width="1.25"/>
<line x1="324.9" y1="167.05" x2="324.9" y2="175.75" stroke="#6a6a6a" stroke-width="1.25"/>
<line x1="340.5" y1="167.05" x2="340.5" y2="175.75" stroke="#6a6a6a" stroke-width="1.25"/>
<text x="129.2" y="290.6" class="lg" style="font-size:9.15px">Time from the date of EOI response (yrs)</text>
<text x="56.8" y="231.2" class="lg">Overall P &lt; 0.001</text>
<text x="54.5" y="242.3" class="lg">*P = 0.002</text>
<text x="52.3" y="253" class="lg">**P = 0.10</text>
<text x="334" y="68" style="font-size:15px;font-weight:bold;fill:#111">*</text>
<text x="332" y="206.2" style="font-size:15px;font-weight:bold;fill:#111;letter-spacing:0.1px">**</text>
<line x1="406.5" y1="125" x2="415.8" y2="125" stroke="#444" stroke-width="1.6"/>
<line x1="406.5" y1="139" x2="415.8" y2="139" stroke="#aaa" stroke-width="1.6"/>
<line x1="405.8" y1="153" x2="416.5" y2="153" stroke="#3a3a3a" stroke-width="1.3" stroke-dasharray="1.3 0.9"/>
<line x1="406.3" y1="166.6" x2="414.6" y2="166.6" stroke="#333" stroke-width="1.3"/>
<text x="422" y="128.3" class="lg">no POD24_RM</text>
<text x="422" y="142.2" class="lg">no POD24_OBS</text>
<text x="422" y="156.1" class="lg">POD24_RM</text>
<text x="422" y="170" class="lg">POD24_OBS</text>
</svg>
</body></html>
